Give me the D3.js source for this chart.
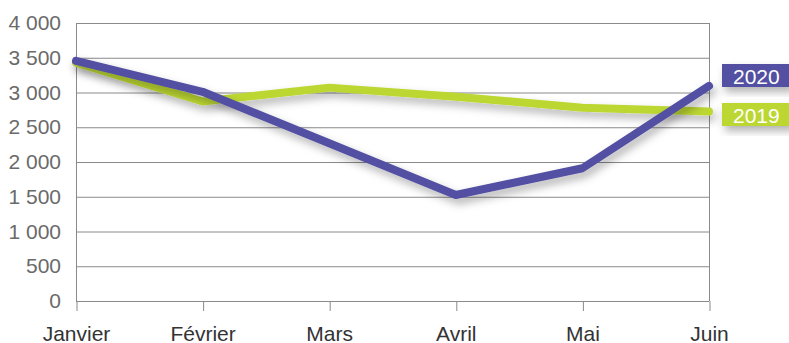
<!DOCTYPE html>
<html>
<head>
<meta charset="utf-8">
<script src="https://cdn.jsdelivr.net/npm/d3@7"></script>
<style>
  html, body { margin: 0; padding: 0; background: #fff; }
  svg { display: block; font-family: "Liberation Sans", Arial, sans-serif; }
</style>
</head>
<body>
<svg id="chart" width="789" height="343"></svg>
<script>
// Monthly values, January to June
const months = ["Janvier", "Février", "Mars", "Avril", "Mai", "Juin"];
const values2020 = [3455, 3010, 2270, 1525, 1910, 3095];
const values2019 = [3430, 2870, 3070, 2940, 2780, 2725];
const yTicks = [0, 500, 1000, 1500, 2000, 2500, 3000, 3500, 4000];
const seriesNames = ["2020", "2019"];
const seriesColors = ["#5250a2", "#bcd733"];

(function () {
  const svg = d3.select("#chart");
  const plotLeft = 76, plotRight = 709, plotTop = 23, plotBottom = 301;

  const x = d3.scalePoint().domain(months).range([plotLeft, plotRight]);
  const y = d3.scaleLinear().domain([0, 4000]).range([plotBottom, plotTop]);

  const fmt = v => d3.format(",")(v).replace(/,/g, " ");

  // soft drop shadow under the lines and legend tags
  const defs = svg.append("defs");
  const f = defs.append("filter").attr("id", "shadow")
    .attr("x", "-20%").attr("y", "-40%").attr("width", "140%").attr("height", "180%");
  f.append("feDropShadow").attr("dx", 3).attr("dy", 5).attr("stdDeviation", 4)
    .attr("flood-color", "#000").attr("flood-opacity", 0.3);

  // horizontal gridlines
  svg.append("g").selectAll("line").data(yTicks).join("line")
    .attr("x1", plotLeft).attr("x2", plotRight)
    .attr("y1", d => y(d) + 0.5).attr("y2", d => y(d) + 0.5)
    .attr("stroke", "#8a8a8a").attr("stroke-width", 1);

  // y axis labels
  const yAxis = svg.append("g").attr("transform", `translate(${plotLeft},0)`)
    .call(d3.axisLeft(y).tickValues(yTicks).tickFormat(fmt).tickSize(0).tickPadding(15));
  yAxis.select(".domain").remove();
  yAxis.selectAll("text").attr("font-size", 21).attr("fill", "#6a6a6a")
    .attr("font-family", "Liberation Sans, Arial, sans-serif");

  // vertical frame lines
  [plotLeft, plotRight].forEach(px => {
    svg.append("line").attr("x1", px + 0.5).attr("x2", px + 0.5)
      .attr("y1", plotTop).attr("y2", plotBottom)
      .attr("stroke", "#8a8a8a").attr("stroke-width", 1);
  });

  // x axis with category ticks
  const xAxis = svg.append("g").attr("transform", `translate(0,${plotBottom})`)
    .call(d3.axisBottom(x).tickSize(10).tickPadding(15));
  xAxis.select(".domain").remove();
  xAxis.selectAll(".tick line").attr("stroke", "#8a8a8a").attr("transform", "translate(0.5,0)");
  xAxis.selectAll("text").attr("font-size", 21).attr("fill", "#333")
    .attr("font-family", "Liberation Sans, Arial, sans-serif");

  // series lines
  const line = d3.line().x((d, i) => x(months[i])).y(d => y(d));
  const series = [values2019, values2020];
  const colors = [seriesColors[1], seriesColors[0]];
  series.forEach((vals, i) => {
    svg.append("path").datum(vals)
      .attr("d", line)
      .attr("fill", "none")
      .attr("stroke", colors[i])
      .attr("stroke-width", 8)
      .attr("stroke-linecap", "round")
      .attr("stroke-linejoin", "round")
      .attr("filter", "url(#shadow)");
  });

  // legend tags at the end of each series
  const tags = [
    { name: seriesNames[0], color: seriesColors[0], y0: 64 },
    { name: seriesNames[1], color: seriesColors[1], y0: 103 }
  ];
  const tagG = svg.append("g").selectAll("g").data(tags).join("g")
    .attr("transform", d => `translate(722,${d.y0})`);
  tagG.append("rect").attr("width", 70).attr("height", 23)
    .attr("fill", d => d.color).attr("filter", "url(#shadow)");
  tagG.append("text").attr("x", 11).attr("y", 19.5)
    .attr("font-size", 21).attr("fill", "#fff")
    .text(d => d.name);
})();
</script>
</body>
</html>
